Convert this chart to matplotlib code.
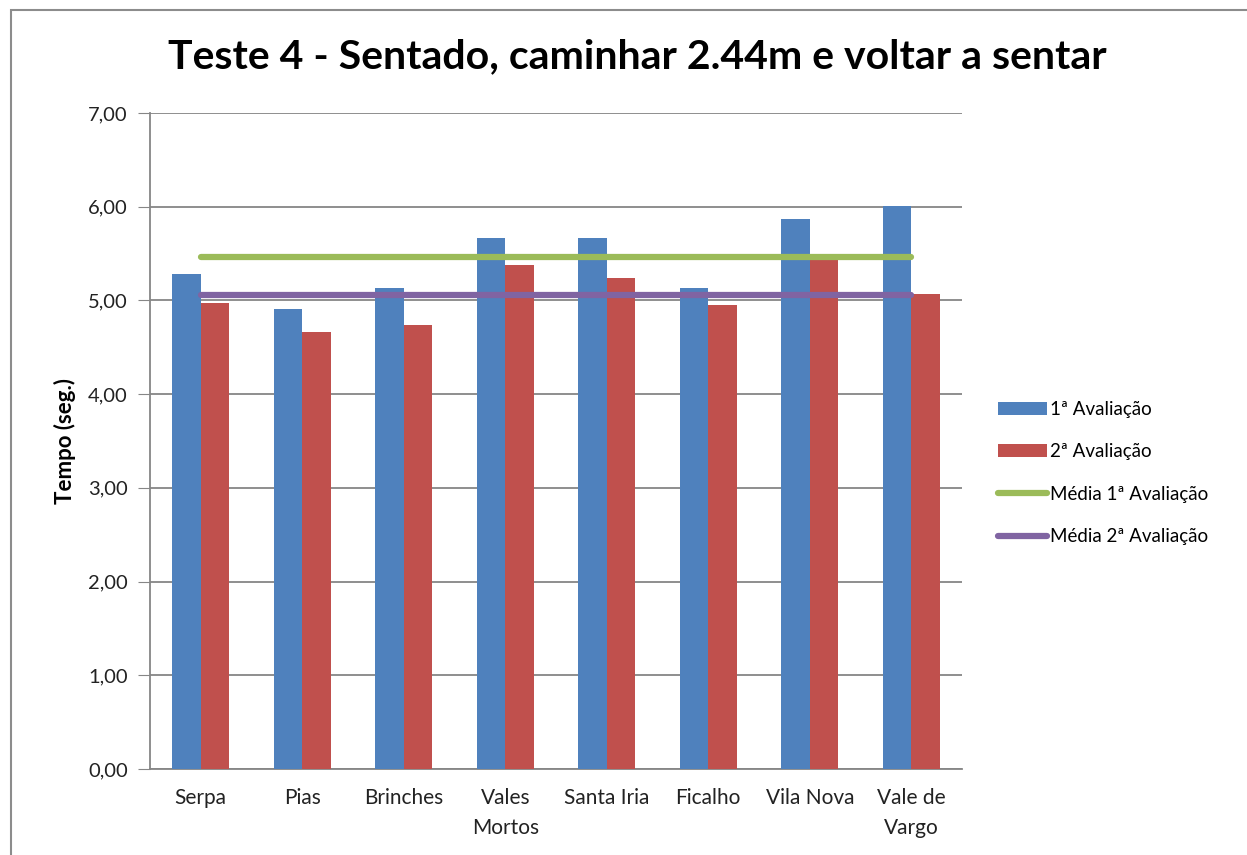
import numpy as np
import matplotlib
matplotlib.use("Agg")
import matplotlib.pyplot as plt
from matplotlib.patches import Rectangle

# Dados
locais = ["Serpa", "Pias", "Brinches", "Vales\nMortos", "Santa Iria",
          "Ficalho", "Vila Nova", "Vale de\nVargo"]
avaliacao_1 = [5.28, 4.91, 5.13, 5.67, 5.67, 5.13, 5.87, 6.01]
avaliacao_2 = [4.97, 4.66, 4.74, 5.38, 5.24, 4.95, 5.43, 5.07]
media_1 = [np.mean(avaliacao_1)] * len(locais)
media_2 = [np.mean(avaliacao_2)] * len(locais)
yticks = [0, 1, 2, 3, 4, 5, 6, 7]

plt.rcParams['font.family'] = ['Lato', 'DejaVu Sans']

fig = plt.figure(figsize=(12.47, 8.55), dpi=100)
ax = fig.add_axes([150 / 1247, 86 / 855, 812 / 1247, 656 / 855])

# Moldura do gráfico (cortada à direita e em baixo)
fig.patches.append(Rectangle((11 / 1247, -0.05), 1.1, 1 - 10 / 855 + 0.05,
                             transform=fig.transFigure, fill=False,
                             edgecolor="#8c8c8c", linewidth=1.5))

x = np.arange(len(locais))
w = 0.28
b1 = ax.bar(x - w / 2, avaliacao_1, w, color="#4F81BD", label="1ª Avaliação", zorder=3)
b2 = ax.bar(x + w / 2, avaliacao_2, w, color="#C0504D", label="2ª Avaliação", zorder=3)
l1, = ax.plot(x, media_1, color="#9BBB59", linewidth=4.5, solid_capstyle="round",
              label="Média 1ª Avaliação", zorder=4)
l2, = ax.plot(x, media_2, color="#8064A2", linewidth=4.5, solid_capstyle="round",
              label="Média 2ª Avaliação", zorder=4)

ax.set_xlim(-0.5, len(locais) - 0.5)
ax.set_ylim(0, 7)
ax.set_yticks(yticks)
ax.set_yticklabels([f"{v:.2f}".replace(".", ",") for v in yticks])
ax.set_xticks(x)
ax.set_xticklabels(locais, linespacing=1.6)
ax.tick_params(axis="y", length=9, color="#868686", labelsize=14.5, pad=7,
               labelcolor="#222222")
ax.tick_params(axis="x", length=0, labelsize=15, pad=14, labelcolor="#222222")

ax.grid(axis="y", color="#868686", linewidth=1.3, zorder=0)
for s in ["top", "right"]:
    ax.spines[s].set_visible(False)
for s in ["left", "bottom"]:
    ax.spines[s].set_color("#868686")
    ax.spines[s].set_linewidth(1.3)

ax.set_ylabel("Tempo (seg.)", fontsize=16, fontweight="bold", labelpad=9)
fig.text(637 / 1247, 1 - 57 / 855, "Teste 4 - Sentado, caminhar 2.44m e voltar a sentar",
         ha="center", va="center", fontsize=29.5, fontweight="bold")

ax.legend(handles=[b1, b2, l1, l2], loc="center left",
          bbox_to_anchor=(1.024, 0.451), frameon=False,
          fontsize=13.5, handlelength=2.6, labelspacing=1.35,
          handletextpad=0.15)

fig.savefig("out.png", dpi=100)
